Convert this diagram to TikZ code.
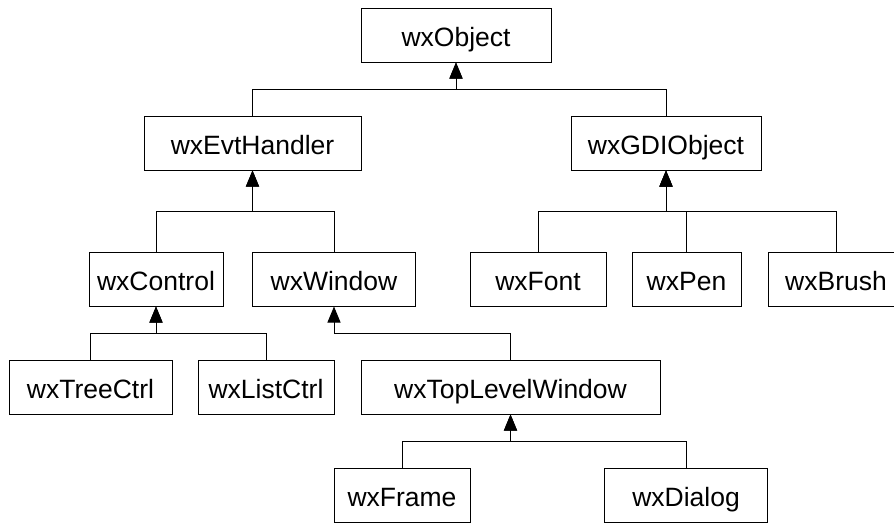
\documentclass[tikz,border=0pt]{standalone}
\usepackage{fontspec}
\setmainfont{Liberation Sans}
\usetikzlibrary{arrows.meta}
\tikzset{cls/.style={draw,inner sep=0pt,minimum height=54pt,text height=23.5pt,text depth=0pt}}
\begin{document}
\begin{tikzpicture}[x=1pt,y=-1pt,>={Triangle[length=16pt,width=13pt]},line width=1pt,font=\fontsize{26.5}{30}\selectfont]
    \useasboundingbox (0,0) rectangle (894,523);
    \clip (0,0) rectangle (894,523);
    \path (456,35) node[cls,minimum width=190pt](obj){wxObject};
    \path (252.5,143) node[cls,minimum width=217pt](evt){wxEvtHandler} (666,143) node[cls,minimum width=190pt](gdi){wxGDIObject};
    \path (156,279) node[cls,minimum width=134pt](ctrl){wxControl} (334,279) node[cls,minimum width=163pt](win){wxWindow};
    \path (538,279) node[cls,minimum width=136pt](fnt){wxFont} (686.5,279) node[cls,minimum width=109pt](pen){wxPen} (836,279) node[cls,minimum width=136pt](brush){wxBrush};
    \path (90.5,387) node[cls,minimum width=163pt](tree){wxTreeCtrl} (266,387) node[cls,minimum width=136pt](list){wxListCtrl} (510.5,387) node[cls,minimum width=299pt](top){wxTopLevelWindow};
    \path (402,495) node[cls,minimum width=136pt](frame){wxFrame} (686,495) node[cls,minimum width=163pt](dlg){wxDialog};
    \coordinate (objbus) at (456,89);
    \coordinate (evtbus) at (252.5,211);
    \coordinate (gdibus) at (666,211);
    \coordinate (ctrlbus) at (156,333);
    \coordinate (winbus) at (334,333);
    \coordinate (topbus) at (510.5,441);
    \draw[->] (evt.north) |- (objbus) -- (obj.south);
    \draw[->] (gdi.north) |- (objbus) -- (obj.south);
    \draw[->] (ctrl.north) |- (evtbus) -- (evt.south);
    \draw[->] (win.north) |- (evtbus) -- (evt.south);
    \draw[->] (fnt.north) |- (gdibus) -- (gdi.south);
    \draw[->] (pen.north) |- (gdibus) -- (gdi.south);
    \draw[->] (brush.north) |- (gdibus) -- (gdi.south);
    \draw[->] (tree.north) |- (ctrlbus) -- (ctrl.south);
    \draw[->] (list.north) |- (ctrlbus) -- (ctrl.south);
    \draw[->] (top.north) |- (winbus) -- (win.south);
    \draw[->] (frame.north) |- (topbus) -- (top.south);
    \draw[->] (dlg.north) |- (topbus) -- (top.south);
  \end{tikzpicture}
\end{document}
